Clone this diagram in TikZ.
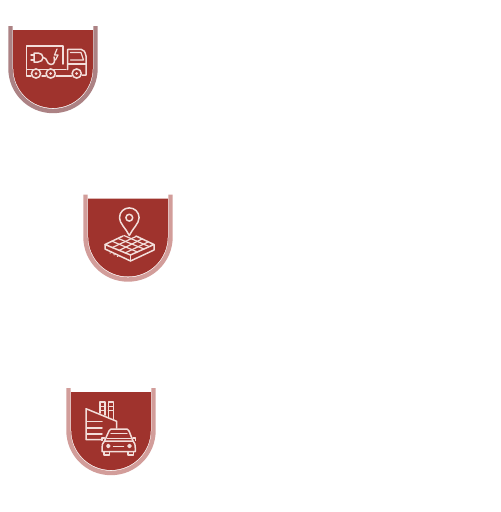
\documentclass[tikz,border=0pt]{standalone}
\definecolor{shieldred}{HTML}{9F332D}
\definecolor{bandA}{HTML}{AC8284}
\definecolor{bandB}{HTML}{D29D9A}
\definecolor{iconline}{HTML}{F3DEDA}
\tikzset{
  x=1pt,y=-1pt,
  band/.style={line width=4.4pt,line cap=butt},
  shieldfill/.style={fill=shieldred,draw=none},
  icon/.style={draw=iconline,line width=1.5pt,line join=round,line cap=round},
  iconthin/.style={draw=iconline,line width=1.2pt,line join=round,line cap=round},
}
\newcommand{\drawshield}[1]{%
  \draw[band,#1] (2.5,0) -- (2.5,42.5) .. controls (2.5,66) and (21.5,85) .. (45,85) .. controls (68.5,85) and (87.5,66) .. (87.5,42.5) -- (87.5,0);
  \fill[shieldfill] (5.2,4) -- (84.8,4) -- (84.8,42) .. controls (84.8,64) and (67,82) .. (45,82) .. controls (23,82) and (5.2,64) .. (5.2,42) -- cycle;
}
\begin{document}
\begin{tikzpicture}
\useasboundingbox (0,0) rectangle (501,512);
\fill[white] (0,0) rectangle (501,512);
% Shield 1: truck
\begin{scope}[shift={(8,26)}]
  \drawshield{bandA}
  \draw[icon] (55,38) -- (55,20) -- (18.7,20) -- (18.7,43.5) -- (58,43.5);
  \draw[icon] (18.7,43.5) -- (18.7,50) -- (23,50);
  \draw[icon] (34,50) -- (37.5,50) (48,50) -- (63.5,50);
  \draw[icon] (59.7,43.5) -- (59.7,23.3) -- (73,23.3) .. controls (76,23.3) and (77,26) .. (78,30) -- (78,49) -- (74,49);
  \draw[icon] (59.7,38) -- (78,38);
  \draw[iconthin] (62.5,26.5) -- (73,26.5) -- (75.5,34) -- (62.5,34);
  \draw[icon] (28,47.5) circle (4.6) (42.7,47.5) circle (4.6) (68.7,47.5) circle (4.6);
  \fill[iconline] (28,47.5) circle (1.5) (42.7,47.5) circle (1.5) (68.7,47.5) circle (1.5);
  % plug
  \draw[icon] (23,29) -- (26,29) (23,34) -- (26,34);
  \draw[icon] (26,27) -- (30,27) .. controls (33,27) and (35,29) .. (35,31.5) .. controls (35,34) and (33,36) .. (30,36) -- (26,36) -- cycle;
  \draw[icon] (35,31.5) .. controls (40,31.5) and (38,38.5) .. (43,38.5) .. controls (47,38.5) and (47,34) .. (46,31);
  % bolt
  \draw[iconthin] (49,23) -- (46.5,29) -- (50,29) -- (47.5,34);
\end{scope}
% Shield 2: map pin on tile
\begin{scope}[shift={(83,194.5)}]
  \drawshield{bandB}
  \draw[icon] (46.3,41) .. controls (43,34) and (36.5,29) .. (36.5,23.2) .. controls (36.5,17.5) and (41,13.4) .. (46.3,13.4) .. controls (51.6,13.4) and (56.1,17.5) .. (56.1,23.2) .. controls (56.1,29) and (49.6,34) .. (46.3,41) -- cycle;
  \draw[icon] (46.3,23.2) circle (3.4);
  % tile
  \draw[icon] (40,41.5) -- (22,50) -- (47.5,60.5) -- (71,50) -- (53,41.5);
  \draw[icon] (22,50) -- (22,54.5) -- (47.5,66.5) -- (71,55.5) -- (71,50);
  \draw[icon] (47.5,60.5) -- (47.5,66.5);
  \draw[iconthin] (29,46.7) -- (54.5,57.5) (35,43.9) -- (61,54.5) (41,41) -- (66,52);
  \draw[iconthin] (29,53.2) -- (53,42) (36,56) -- (59,44.5) (42,58.5) -- (65,47.5);
  \draw[iconthin] (27,58.5) -- (27.3,58.6) (31,60.2) -- (31.3,60.3) (34.5,61.8) -- (34.8,61.9);
\end{scope}
% Shield 3: factory and car
\begin{scope}[shift={(66,388)}]
  \drawshield{bandB}
  % factory
  \draw[icon] (36,51.7) -- (20,51.7) -- (20,20.7) -- (50.7,33.3) -- (50.7,40);
  \draw[icon] (34,25) -- (34,14) -- (39,14) -- (39,27);
  \draw[icon] (42.3,29.5) -- (42.3,14) -- (47.3,14) -- (47.3,31);
  \draw[iconthin] (34,18.5) -- (39,18.5) (34,22.5) -- (39,22.5) (42.3,18.5) -- (47.3,18.5) (42.3,22.5) -- (47.3,22.5);
  \draw[icon] (20.7,33.3) -- (36,33.3) (20.7,40) -- (36,40) (20.7,46) -- (36,46);
  % car
  \draw[icon] (38.5,53) -- (43,43) .. controls (44,41) and (45,41) .. (47,41) -- (59,41) .. controls (61,41) and (62,41) .. (63,43) -- (67,53);
  \draw[icon] (41,50.5) -- (65,50.5);
  \draw[iconthin] (45,45.5) -- (61,45.5);
  \draw[icon] (38.5,53) .. controls (36.5,55) and (36,57) .. (36,60) -- (36,63.5) -- (69.3,63.5) -- (69.3,60) .. controls (69.3,57) and (69,55) .. (67,53) -- cycle;
  \draw[icon] (38,63.5) -- (38,67) -- (43.5,67) -- (43.5,63.5) (62,63.5) -- (62,67) -- (67.5,67) -- (67.5,63.5);
  \draw[icon] (47.5,58.3) -- (57.5,58.3);
  \draw[icon] (42.3,58) circle (1.5) (63.5,58) circle (1.5);
  \draw[iconthin] (38.5,50) -- (36,50) -- (36,52.5) (67,50) -- (69.5,50) -- (69.5,52.5);
\end{scope}
\end{tikzpicture}
\end{document}
